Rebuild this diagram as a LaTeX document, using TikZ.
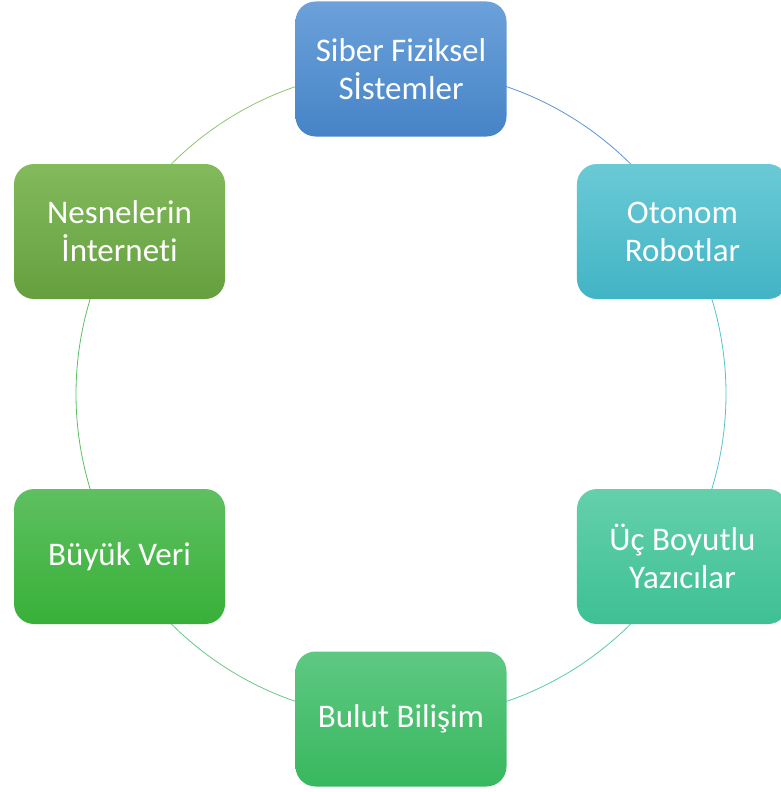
\documentclass[tikz,border=0pt]{standalone}
\usepackage{fontspec}
\setmainfont{Carlito}[Ligatures=NoCommon]
\usetikzlibrary{calc,backgrounds}
\definecolor{cblue}{HTML}{5B93D3}
\definecolor{cteal}{HTML}{55C2D0}
\definecolor{cseag}{HTML}{55CCA6}
\definecolor{cgrn}{HTML}{66C888}
\definecolor{cgrn2}{HTML}{5ABF62}
\definecolor{colive}{HTML}{8EC46C}
\begin{document}
\begin{tikzpicture}[x=1pt,y=1pt,
  box/.style={rounded corners=20pt, minimum width=211pt, minimum height=135pt,
    text=white, align=center, font=\fontsize{33}{38}\selectfont, inner sep=0pt},
  arcline/.style={line width=0.8pt}]
\useasboundingbox (0,0) rectangle (780,-792);
\coordinate (c) at (401,-394);
\node[box, top color={rgb,255:red,108;green,161;blue,218}, bottom color={rgb,255:red,70;green,132;blue,199}] (sfs) at ($(c)+(90:325)$) {Siber Fiziksel\\Sİstemler};
\node[box, top color={rgb,255:red,106;green,202;blue,213}, bottom color={rgb,255:red,66;green,180;blue,197}] (or) at ($(c)+(30:325)$) {Otonom\\Robotlar};
\node[box, top color={rgb,255:red,100;green,208;blue,172}, bottom color={rgb,255:red,62;green,192;blue,148}] (uby) at ($(c)+(-30:325)$) {Üç Boyutlu\\Yazıcılar};
\node[box, top color={rgb,255:red,94;green,200;blue,130}, bottom color={rgb,255:red,56;green,184;blue,94}] (bb) at ($(c)+(-90:325)$) {Bulut Bilişim};
\node[box, top color={rgb,255:red,94;green,192;blue,96}, bottom color={rgb,255:red,56;green,176;blue,56}] (bv) at ($(c)+(-150:325)$) {Büyük Veri};
\node[box, top color={rgb,255:red,130;green,186;blue,92}, bottom color={rgb,255:red,102;green,160;blue,62}] (ni) at ($(c)+(150:325)$) {Nesnelerin\\İnterneti};
\begin{scope}[on background layer]
\draw[arcline, cblue] (sfs.center) arc[start angle=90, end angle=30, radius=325];
\draw[arcline, cteal] (or.center) arc[start angle=30, end angle=-30, radius=325];
\draw[arcline, cseag] (uby.center) arc[start angle=-30, end angle=-90, radius=325];
\draw[arcline, cgrn] (bb.center) arc[start angle=-90, end angle=-150, radius=325];
\draw[arcline, cgrn2] (bv.center) arc[start angle=210, end angle=150, radius=325];
\draw[arcline, colive] (ni.center) arc[start angle=150, end angle=90, radius=325];
\end{scope}
\end{tikzpicture}
\end{document}
